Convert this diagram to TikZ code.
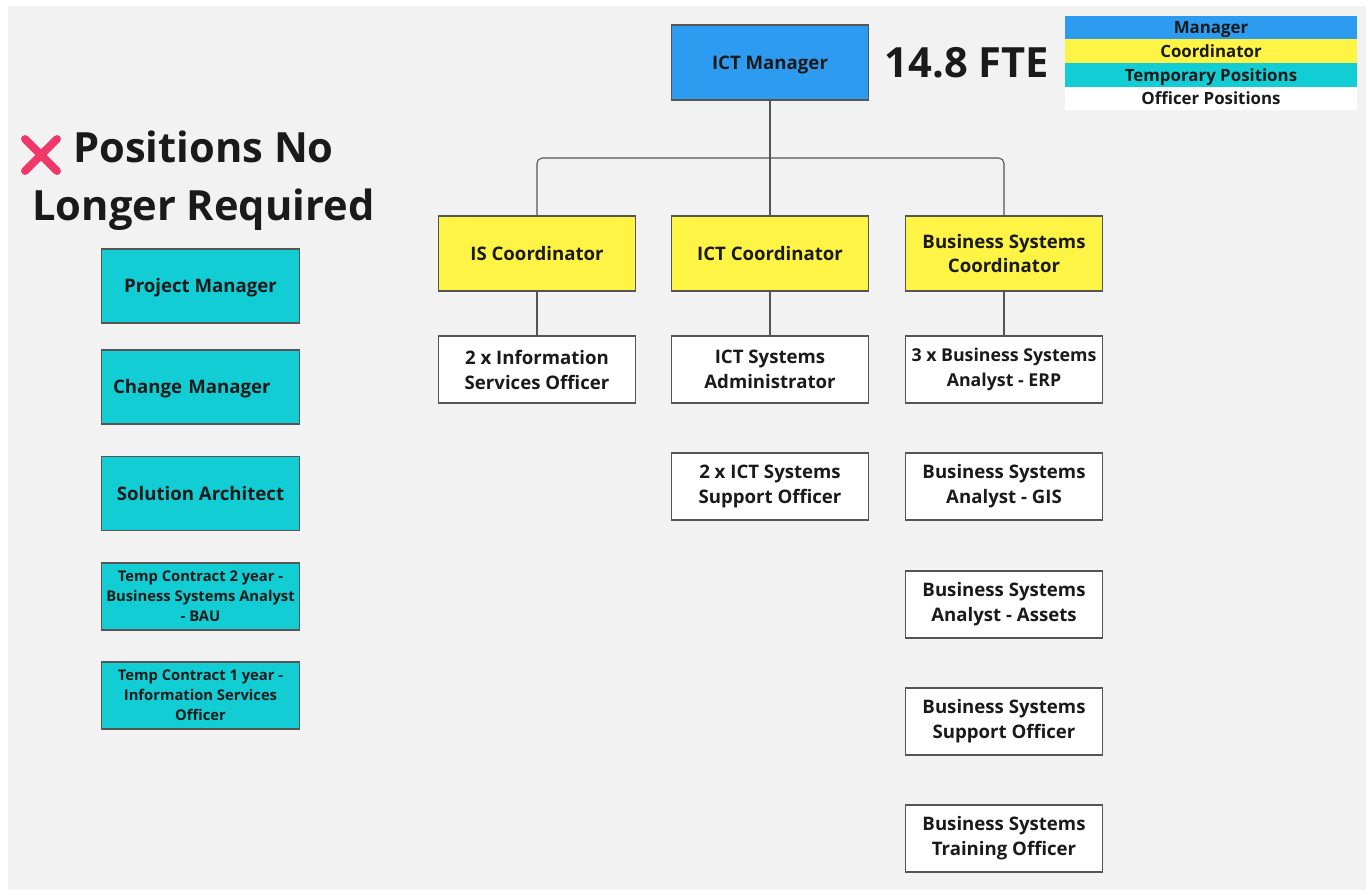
\documentclass[tikz,border=0pt]{standalone}
\usepackage{fontspec}
\setmainfont{Open Sans}
\usepackage{tikz}
\usepackage{xcolor}
\definecolor{mgrblue}{HTML}{2D9BF0}
\definecolor{coordyellow}{HTML}{FEF445}
\definecolor{tempcyan}{HTML}{12CDD4}
\definecolor{boardgray}{HTML}{F2F2F2}
\definecolor{linegray}{HTML}{555555}
\definecolor{crossred}{HTML}{F0386B}
\definecolor{inkdark}{HTML}{1A1A1A}

\begin{document}
\begin{tikzpicture}[x=0.02cm,y=-0.02cm,line cap=round,
  box/.style={draw=linegray,line width=0.8pt,minimum width=3.95cm,minimum height=1.5cm,inner sep=0pt,align=center,text=inkdark,font=\bfseries\fontsize{10.6}{14.2}\selectfont},
  oneline/.style={text height=10.6pt,text depth=3pt},
  mgrbox/.style={box,fill=mgrblue},
  coordbox/.style={box,fill=coordyellow},
  offbox/.style={box,fill=white,minimum height=1.34cm},
  tempbox/.style={box,fill=tempcyan,minimum height=1.48cm},
  tempsmall/.style={tempbox,minimum height=1.34cm,font=\bfseries\fontsize{8.4}{11.3}\selectfont},
  legrow/.style={minimum width=5.84cm,minimum height=0.47cm,inner sep=0pt,text height=9.4pt,text depth=2.5pt,text=inkdark,font=\bfseries\fontsize{9.6}{11}\selectfont},
  conn/.style={draw=linegray,line width=0.6pt,rounded corners=3pt}]
\useasboundingbox (0,0) rectangle (1372,894);
\fill[white] (0,0) rectangle (1372,894);
\fill[boardgray] (8,6) rectangle (1366,890);
% top
\node[mgrbox,oneline] (mgr) at (770,62.5) {ICT Manager};
\node[text=inkdark,font=\bfseries\fontsize{23.7}{28}\selectfont] (fte) at (967,63) {14.8 FTE};
% legend
\node[legrow,fill=mgrblue] (legmgr) at (1211,27.5) {Manager};
\node[legrow,fill=coordyellow] (legcoord) at (1211,51) {Coordinator};
\node[legrow,fill=tempcyan] (legtemp) at (1211,75) {Temporary Positions};
\node[legrow,fill=white] (legoff) at (1211,98.5) {Officer Positions};
% coordinators
\node[coordbox,oneline] (isc) at (537,253.5) {IS Coordinator};
\node[coordbox,oneline] (ictc) at (770,253.5) {ICT Coordinator};
\node[coordbox] (bsc) at (1004,253.5) {Business Systems\\Coordinator};
% officers
\node[offbox] (iso) at (537,369.5) {2 x Information\\Services Officer};
\node[offbox] (ictsa) at (770,369.5) {ICT Systems\\Administrator};
\node[offbox] (ictso) at (770,486.5) {2 x ICT Systems\\Support Officer};
\node[offbox,font=\bfseries\fontsize{10.1}{14.2}\selectfont] (bsaerp) at (1004,369.5) {3 x Business Systems\\Analyst - ERP};
\node[offbox] (bsagis) at (1004,486.5) {Business Systems\\Analyst - GIS};
\node[offbox] (bsaast) at (1004,604.5) {Business Systems\\Analyst - Assets};
\node[offbox] (bsso) at (1004,721.5) {Business Systems\\Support Officer};
\node[offbox] (bsto) at (1004,838.5) {Business Systems\\Training Officer};
% connectors
\coordinate (bus) at (770,158);
\draw[conn] (mgr) -- (ictc);
\draw[conn] (isc.north) |- (bus) -| (bsc.north);
\draw[conn] (isc) -- (iso);
\draw[conn] (ictc) -- (ictsa);
\draw[conn] (bsc) -- (bsaerp);
% positions no longer required
\draw[crossred,line width=4.5pt] (25,139) -- (57,171) (57,139) -- (25,171);
\node[anchor=base west,inner sep=0pt,text=inkdark,font=\bfseries\fontsize{23.7}{28}\selectfont] (hdtop) at (73,162) {Positions No};
\node[anchor=base west,inner sep=0pt,text=inkdark,font=\bfseries\fontsize{23.7}{28}\selectfont] (hdbot) at (32,220) {Longer Required};
\node[tempbox,oneline] (pm) at (200.5,286) {Project Manager};
\node[tempbox,oneline,text width=3.5cm,align=left] (cm) at (200.5,387) {Change Manager};
\node[tempbox,oneline] (sa) at (200.5,493.5) {Solution Architect};
\node[tempsmall] (tc2) at (200.5,596.5) {Temp Contract 2 year -\\Business Systems Analyst\\- BAU};
\node[tempsmall] (tc1) at (200.5,695.5) {Temp Contract 1 year -\\Information Services\\Officer};
\end{tikzpicture}
\end{document}
